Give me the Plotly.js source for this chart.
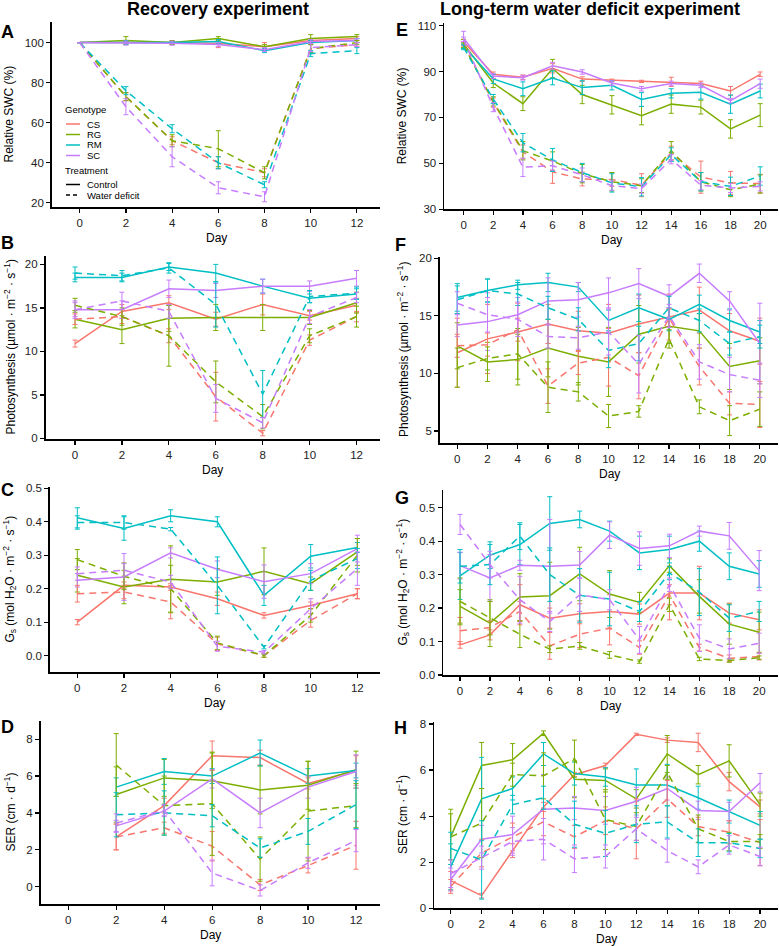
<!DOCTYPE html>
<html><head><meta charset="utf-8">
<script src="https://cdn.plot.ly/plotly-3.0.1.min.js"></script>
<style>html,body{margin:0;padding:0;background:#fff}#chart{width:779px;height:946px}</style>
</head><body><div id="chart"></div>
<script>
// ---------- data ----------
const genotypes = ['CS','RG','RM','SC'];
const genoColors = ['#F8766D','#7CAE00','#00BFC4','#C77CFF'];
const treatments = ['Control','Water deficit'];
const daysRec = [0,2,4,6,8,10,12];
const daysRecSER = [2,4,6,8,10,12];
const daysLT = [0,2,4,6,8,10,12,14,16,18,20];

// A: Recovery - relative SWC (%)  rows: CS, RG, RM, SC
const recSWC_ctrl = [[100,100,100,99.5,98,101,102],[100,101,100,102,98,102,103],[100,100,100,100.5,96,100,101],[100,99.8,99.7,99,96.5,100.5,101]];
const recSWC_ctrl_se = [[0,0.5,1,2,2,1,1],[0,2,1,1,1,2,1],[0,1,0.5,1,1,1,1],[0,1,1,1,1,1,1]];
const recSWC_wd = [[100,73,51,40,35,97,99],[100,73,51,47,35,97,100],[100,76,57,40,29,94.5,96],[100,68,43,27.5,23,97.5,99]];
const recSWC_wd_se = [[0,2,2,3,2,2,1],[0,2,3,9,3,2,1],[0,2,2,3,1.5,1.5,1.5],[0,4,5,3,2.5,2,1]];

// B: Recovery - photosynthesis
const recPhoto_ctrl = [[10.9,14.6,15.6,13.7,15.4,14.1,15.3],[13.7,12.5,13.8,13.9,13.9,13.9,15.6],[18.5,18.5,19.7,19.0,17.5,16.1,16.6],[14.8,14.8,17.2,17.0,17.5,17.5,18.4]];
const recPhoto_ctrl_se = [[0.4,0.8,0.8,0.8,1.2,0.5,0.8],[1,1.6,1.5,1.5,1.5,0.8,1.2],[0.5,0.5,0.4,1,0.8,0.5,0.6],[0.8,1,1,0.8,0.8,0.6,0.9]];
const recPhoto_wd = [[13.7,14.0,11.8,4.8,0.6,11.3,14.0],[15.3,14.0,11.8,6.5,2.5,11.8,14.0],[19.0,18.7,19.6,15.4,5.1,16.3,16.7],[14.8,15.8,14.6,4.6,1.8,14.0,16.2]];
const recPhoto_wd_se = [[0.6,0.8,0.8,2.8,0.3,0.6,0.6],[0.8,1,3.5,2.4,1.4,0.8,1.2],[0.7,0.6,0.6,2.6,2.7,0.7,0.7],[1,1,0.8,1.6,0.6,0.8,0.6]];

// C: Recovery - Gs
const recGs_ctrl = [[0.10,0.21,0.205,0.17,0.12,0.15,0.185],[0.24,0.205,0.228,0.22,0.252,0.215,0.31],[0.412,0.38,0.418,0.40,0.18,0.297,0.323],[0.225,0.235,0.307,0.258,0.221,0.245,0.32]];
const recGs_ctrl_se = [[0.008,0.01,0.01,0.02,0.008,0.01,0.015],[0.05,0.05,0.1,0.04,0.07,0.02,0.04],[0.03,0.035,0.018,0.015,0.03,0.035,0.015],[0.02,0.07,0.015,0.025,0.05,0.03,0.04]];
const recGs_wd = [[0.185,0.19,0.16,0.035,0.0,0.105,0.185],[0.287,0.237,0.20,0.038,0.0,0.12,0.30],[0.398,0.398,0.378,0.21,0.025,0.225,0.29],[0.245,0.255,0.22,0.028,0.01,0.14,0.26]];
const recGs_wd_se = [[0.025,0.02,0.05,0.02,0.005,0.02,0.015],[0.03,0.04,0.07,0.02,0.005,0.02,0.05],[0.02,0.02,0.005,0.085,0.005,0.03,0.03],[0.02,0.02,0.02,0.015,0.005,0.03,0.05]];

// D: Recovery - SER (days 2-12)
const recSER_ctrl = [[2.7,4.4,7.1,7.0,5.6,6.3],[5.0,5.9,5.75,5.25,5.5,6.35],[5.4,6.25,6.0,7.25,6.0,6.3],[3.3,4.1,5.85,4.0,5.4,6.25]];
const recSER_ctrl_se = [[0.7,0.4,0.8,0.4,0.3,0.8],[1.5,1.0,1.5,1.3,1.3,1.0],[0.5,0.7,0.4,0.7,0.4,0.4],[0.3,0.3,0.5,0.8,0.6,0.9]];
const recSER_wd = [[2.7,3.2,2.2,0.1,1.15,2.25],[6.6,4.4,4.5,1.5,4.1,4.4],[3.9,4.0,3.85,2.1,3.0,4.45],[3.45,4.15,0.75,-0.2,1.3,2.5]];
const recSER_wd_se = [[0.7,0.3,0.8,0.3,0.4,1.3],[1.7,1.6,2.8,1.2,2.7,1.2],[1.2,1.2,0.6,0.5,0.7,1.3],[0.5,0.3,0.7,0.3,0.3,0.6]];

// E: Long-term - relative SWC (%)
const ltSWC_ctrl = [[103,88.8,87.5,91.4,86.7,86.2,85.7,85.5,84.8,81.5,88.8],[102,85,76,91.3,80,75.5,70.8,75.8,74.5,65,71],[101,86.8,82.5,87.2,83,84,77.8,80.5,81,75.8,81.5],[104.5,88,87.3,92.5,89.8,85,82.5,84.8,84,77.3,84.7]];
const ltSWC_ctrl_se = [[1,1,1,2,1,0.5,0.5,2,1,2,1],[2,2,3,4,4,4,4,4,3,4,5],[1,2,3,3,3,2,3,2,3,4,3],[3,1,1,1.5,1,1,1,1,1,1,2]];
const ltSWC_wd = [[102,76.5,55,46.3,43.2,43,40.5,54.5,44,41.5,41.2],[101.5,77,55.5,51,45.5,42,40.3,55.5,42,38.5,41],[100.5,78,59,51.5,46,41.5,39.8,53.8,42,40,44.5],[104,74.5,48.3,49,45,40.3,39,51.8,40.5,39.3,40]];
const ltSWC_wd_se = [[1,2,3,5,3,3,5,3,7,5,4],[1,2,4,4,4,4,3,4,4,3,4],[1,2,4,5,4,4,4,3,4,4,4],[1,2,4,2,3,2,2,2,2,2,2]];

// F: Long-term - photosynthesis
const ltPhoto_ctrl = [[11.8,13.0,13.6,14.3,13.7,13.5,14.3,14.9,15.5,13.7,12.8],[12.4,11.0,11.2,12.2,11.5,11.0,13.4,14.1,13.7,10.6,11.1],[16.6,17.2,17.7,17.9,17.5,14.6,15.7,14.7,16.0,14.6,13.6],[14.2,14.5,15.1,16.3,16.4,17.0,17.8,16.7,18.7,16.3,12.6]];
const ltPhoto_ctrl_se = [[3,3,2.5,1.7,1.7,2.5,2.5,2,2,1.5,2],[2,1.7,2.2,2.5,2.5,3,2.5,1.5,1.5,2,2],[1.2,1,0.4,0.8,0.4,0.9,1.2,1,0.8,1,1],[1,2.5,1.5,2,1.5,1.3,1.3,1,0.8,0.8,3.5]];
const ltPhoto_wd = [[12.4,12.5,13.8,8.9,10.9,11.4,9.8,14.8,10.6,7.4,7.3],[10.5,11.3,11.7,8.8,8.4,6.3,6.7,13.0,7.1,5.9,6.9],[16.4,17.2,16.9,15.7,14.7,12.0,12.6,15.7,14.6,12.6,13.2],[16.1,15.1,14.7,13.2,13.1,13.6,10.8,15.0,11.0,9.9,9.4]];
const ltPhoto_wd_se = [[1,1,1,1.5,1,2.5,2,0.8,1.6,1,2],[1.7,1,2.2,2.2,0.8,1,0.5,0.8,0.6,1.3,1.5],[1.2,1,1,1,1,1.5,1.5,1,1,1,1],[1,1.5,1.5,1,1,2,2.5,1,1.5,1.5,1.5]];

// G: Long-term - Gs
const ltGs_ctrl = [[0.09,0.12,0.21,0.17,0.183,0.19,0.182,0.245,0.245,0.185,0.165],[0.205,0.155,0.233,0.237,0.302,0.242,0.217,0.327,0.235,0.152,0.128],[0.296,0.358,0.39,0.453,0.465,0.43,0.365,0.375,0.40,0.325,0.302],[0.327,0.29,0.328,0.325,0.329,0.418,0.378,0.386,0.43,0.416,0.312]];
const ltGs_ctrl_se = [[0.01,0.015,0.06,0.03,0.03,0.05,0.03,0.08,0.08,0.03,0.03],[0.05,0.07,0.07,0.1,0.08,0.07,0.03,0.02,0.05,0.06,0.06],[0.07,0.04,0.06,0.08,0.025,0.03,0.05,0.04,0.03,0.04,0.04],[0.04,0.07,0.015,0.14,0.04,0.04,0.05,0.035,0.015,0.04,0.06]];
const ltGs_wd = [[0.132,0.142,0.19,0.087,0.122,0.14,0.082,0.24,0.082,0.05,0.055],[0.22,0.17,0.122,0.077,0.087,0.06,0.04,0.21,0.048,0.043,0.052],[0.325,0.33,0.415,0.30,0.238,0.227,0.19,0.305,0.248,0.17,0.19],[0.45,0.33,0.225,0.16,0.24,0.225,0.105,0.27,0.11,0.078,0.095]];
const ltGs_wd_se = [[0.04,0.02,0.03,0.04,0.04,0.05,0.02,0.03,0.01,0.01,0.01],[0.07,0.05,0.04,0.01,0.01,0.01,0.005,0.02,0.005,0.005,0.005],[0.05,0.06,0.04,0.08,0.08,0.08,0.03,0.02,0.07,0.04,0.03],[0.03,0.04,0.07,0.03,0.05,0.03,0.04,0.02,0.04,0.03,0.03]];

// H: Long-term - SER
const ltSER_ctrl = [[1.2,0.55,2.5,4.4,5.8,6.2,7.55,7.3,7.2,5.5,4.4],[3.1,6.2,6.45,7.6,5.6,5.55,4.75,6.7,5.8,6.4,4.5],[1.8,4.75,5.2,6.7,5.85,5.7,5.35,5.35,4.8,4.2,3.6],[1.25,3.0,3.2,4.3,4.35,4.25,4.65,5.2,4.25,4.2,5.45]];
const ltSER_ctrl_se = [[0.4,0.1,0.3,0.2,0.1,0.1,0.05,0.1,0.4,0.4,0.3],[1.2,1.0,0.7,0.1,0.8,0.5,0.4,0.8,0.4,0.7,0.5],[1,1.8,0.5,0.5,0.5,0.4,0.7,0.9,0.5,0.5,0.6],[0.5,0.6,0.8,1.5,0.5,0.6,0.6,0.5,0.4,0.4,0.4]];
const ltSER_wd = [[0.95,2.4,3.1,3.75,3.1,3.8,3.45,4.75,3.55,3.3,2.85],[3.1,3.7,5.8,5.75,6.5,3.85,3.55,5.9,3.45,2.9,2.9],[2.6,2.1,4.5,4.8,3.65,3.25,3.65,3.75,2.85,2.85,2.6],[1.5,2.2,2.9,3.0,2.15,2.25,3.45,2.5,1.8,2.75,2.25]];
const ltSER_wd_se = [[0.3,0.6,0.6,0.6,0.5,0.6,1.3,0.8,0.4,0.5,1.0],[1.0,1.5,0.5,1.0,0.8,1.3,0.6,0.3,0.6,0.4,0.3],[0.7,1.7,0.4,0.5,1.0,1.0,0.8,0.7,0.6,0.4,0.4],[0.6,0.5,0.6,0.9,0.6,0.5,0.5,0.5,0.3,0.4,0.4]];

const panelLetters = ['A','B','C','D','E','F','G','H'];
const colTitles = ['Recovery experiment','Long-term water deficit experiment'];
const yTitles = ['Relative SWC (%)','Photosynthesis (µmol · m<sup>−2</sup> · s<sup>−1</sup>)','G<sub>s</sub> (mol H<sub>2</sub>O · m<sup>−2</sup> · s<sup>−1</sup>)','SER (cm · d<sup>−1</sup>)'];
const xTitle = 'Day';

// ---------- layout config ----------
const W = 779, H = 946;
const FONT = 'Liberation Sans, Arial, Helvetica, sans-serif';
const px = v => v / W;
const py = v => 1 - v / H;

const panels = [
  {days: daysRec, c: recSWC_ctrl, cs: recSWC_ctrl_se, w: recSWC_wd, ws: recSWC_wd_se, x0: 52, x1: 380, yT: 22, yB: 207, xr: [-1.2, 13], yr: [17.9, 110.3], yt: [20,40,60,80,100], fmt: '', title: 0, col: 0},
  {days: daysRec, c: recPhoto_ctrl, cs: recPhoto_ctrl_se, w: recPhoto_wd, ws: recPhoto_wd_se, x0: 45.7, x1: 380, yT: 255.7, yB: 439.3, xr: [-1.25, 13], yr: [-0.1, 21], yt: [0,5,10,15,20], fmt: '', title: 1, col: 0},
  {days: daysRec, c: recGs_ctrl, cs: recGs_ctrl_se, w: recGs_wd, ws: recGs_wd_se, x0: 50, x1: 380, yT: 486.7, yB: 672.3, xr: [-1.17, 12.97], yr: [-0.05, 0.505], yt: [0,0.1,0.2,0.3,0.4,0.5], fmt: '.1f', title: 2, col: 0},
  {days: daysRecSER, c: recSER_ctrl, cs: recSER_ctrl_se, w: recSER_wd, ws: recSER_wd_se, x0: 40.7, x1: 380, yT: 720.7, yB: 904.3, xr: [-1.15, 13], yr: [-0.95, 9.0], yt: [0,2,4,6,8], fmt: '', title: 3, col: 0},
  {days: daysLT, c: ltSWC_ctrl, cs: ltSWC_ctrl_se, w: ltSWC_wd, ws: ltSWC_wd_se, x0: 444.3, x1: 778, yT: 23.3, yB: 209.3, xr: [-1.3, 21.2], yr: [30, 111], yt: [30,50,70,90,110], fmt: '', title: 0, col: 1},
  {days: daysLT, c: ltPhoto_ctrl, cs: ltPhoto_ctrl_se, w: ltPhoto_wd, ws: ltPhoto_wd_se, x0: 440, x1: 778, yT: 256.7, yB: 443.3, xr: [-1.14, 21.2], yr: [3.93, 20.14], yt: [5,10,15,20], fmt: '', title: 1, col: 1},
  {days: daysLT, c: ltGs_ctrl, cs: ltGs_ctrl_se, w: ltGs_wd, ws: ltGs_wd_se, x0: 443.3, x1: 778, yT: 490, yB: 675, xr: [-1.12, 21.26], yr: [0, 0.553], yt: [0,0.1,0.2,0.3,0.4,0.5], fmt: '.1f', title: 2, col: 1},
  {days: daysLT, c: ltSER_ctrl, cs: ltSER_ctrl_se, w: ltSER_wd, ws: ltSER_wd_se, x0: 434.3, x1: 778, yT: 721.7, yB: 908.3, xr: [-1.06, 21.16], yr: [0, 8.1], yt: [0,2,4,6,8], fmt: '', title: 3, col: 1}
];
const letterPos = [[7,32],[7,243],[7,490],[7,727],[402,30],[400,245],[402,498],[400,728]];
const yTitlePos = [[9,9,9,9],[402,403,402,402]];

const traces = [];
const layout = {
  width: W, height: H, margin: {l:0, r:0, t:0, b:0},
  paper_bgcolor: '#fff', plot_bgcolor: 'rgba(0,0,0,0)',
  showlegend: false, font: {family: FONT, color: '#000'},
  annotations: [], shapes: []
};

panels.forEach((p, i) => {
  const n = i + 1;
  const xa = 'x' + (n === 1 ? '' : n), ya = 'y' + (n === 1 ? '' : n);
  const xk = 'xaxis' + (n === 1 ? '' : n), yk = 'yaxis' + (n === 1 ? '' : n);
  const tickVals = p.col === 0 ? daysRec : daysLT;
  const common = {showline: true, linecolor: '#000', linewidth: 1.8, ticks: 'outside', ticklen: 4, tickwidth: 1.2, tickcolor: '#000',
    showgrid: false, zeroline: false, tickfont: {size: 11.5, color: '#222', family: FONT}, fixedrange: true};
  layout[xk] = Object.assign({}, common, {domain: [px(p.x0), px(p.x1)], range: p.xr, tickmode: 'array', tickvals: tickVals, anchor: ya});
  layout[yk] = Object.assign({}, common, {domain: [py(p.yB), py(p.yT)], range: p.yr, tickmode: 'array', tickvals: p.yt, tickformat: p.fmt, anchor: xa});
  [['c','cs','solid'],['w','ws','7px,5px']].forEach(([k, ks, dash]) => {
    genotypes.forEach((g, gi) => {
      traces.push({
        type: 'scatter', mode: 'lines', x: p.days, y: p[k][gi], xaxis: xa, yaxis: ya,
        name: g + ' ' + (k === 'c' ? treatments[0] : treatments[1]),
        line: {color: genoColors[gi], width: 1.5, dash: dash},
        error_y: {type: 'data', array: p[ks][gi], visible: true, color: genoColors[gi], thickness: 1, width: 2.5},
        hoverinfo: 'skip'
      });
    });
  });
  layout.annotations.push({text: '<b>' + panelLetters[i] + '</b>', xref: 'paper', yref: 'paper', x: px(letterPos[i][0]), y: py(letterPos[i][1]),
    xanchor: 'center', yanchor: 'middle', showarrow: false, font: {size: 18, family: FONT, color: '#000'}});
  layout.annotations.push({text: yTitles[p.title], xref: 'paper', yref: 'paper', x: px(yTitlePos[p.col][p.title]), y: py((p.yT + p.yB) / 2),
    textangle: -90, xanchor: 'center', yanchor: 'middle', showarrow: false, font: {size: 12, family: FONT, color: '#000'}});
  layout.annotations.push({text: xTitle, xref: 'paper', yref: 'paper', x: px((p.x0 + p.x1) / 2), y: py(p.yB + 31),
    xanchor: 'center', yanchor: 'middle', showarrow: false, font: {size: 12, family: FONT, color: '#000'}});
});

layout.annotations.push({text: '<b>' + colTitles[0] + '</b>', xref: 'paper', yref: 'paper', x: px(218), y: py(9), xanchor: 'center', yanchor: 'middle', showarrow: false, font: {size: 18, family: FONT, color: '#000'}});
layout.annotations.push({text: '<b>' + colTitles[1] + '</b>', xref: 'paper', yref: 'paper', x: px(590), y: py(9), xanchor: 'center', yanchor: 'middle', showarrow: false, font: {size: 18, family: FONT, color: '#000'}});

// manual legend in panel A
const legFont = {size: 9.5, family: FONT, color: '#000'};
layout.annotations.push({text: 'Genotype', xref: 'paper', yref: 'paper', x: px(64), y: py(110), xanchor: 'left', yanchor: 'middle', showarrow: false, borderpad: 0, font: legFont});
const legRows = [124, 134.5, 145, 155.5];
genotypes.forEach((g, gi) => {
  layout.shapes.push({type: 'line', xref: 'paper', yref: 'paper', x0: px(66), x1: px(80), y0: py(legRows[gi]), y1: py(legRows[gi]), line: {color: genoColors[gi], width: 1.5}});
  layout.annotations.push({text: g, xref: 'paper', yref: 'paper', x: px(86), y: py(legRows[gi]), xanchor: 'left', yanchor: 'middle', showarrow: false, borderpad: 0, font: legFont});
});
layout.annotations.push({text: 'Treatment', xref: 'paper', yref: 'paper', x: px(64), y: py(170), xanchor: 'left', yanchor: 'middle', showarrow: false, borderpad: 0, font: legFont});
const trRows = [184.5, 195];
treatments.forEach((t, ti) => {
  layout.shapes.push({type: 'line', xref: 'paper', yref: 'paper', x0: px(66), x1: px(80), y0: py(trRows[ti]), y1: py(trRows[ti]), line: {color: '#000', width: 1.5, dash: ti === 0 ? 'solid' : '4px,3px'}});
  layout.annotations.push({text: t, xref: 'paper', yref: 'paper', x: px(86), y: py(trRows[ti]), xanchor: 'left', yanchor: 'middle', showarrow: false, borderpad: 0, font: legFont});
});

Plotly.newPlot('chart', traces, layout, {staticPlot: true, displayModeBar: false});
</script>
</body></html>
